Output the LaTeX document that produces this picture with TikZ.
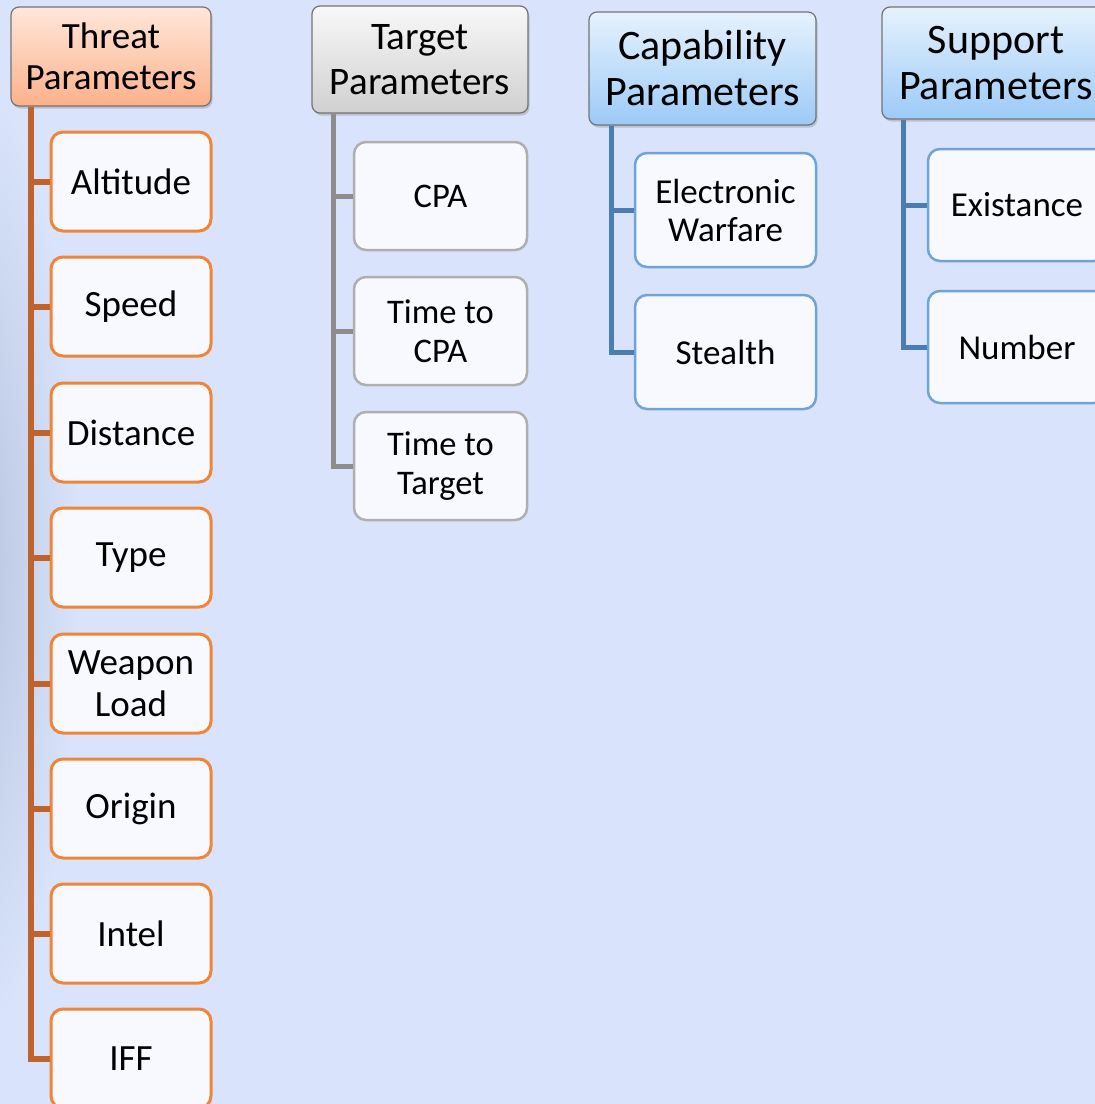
\documentclass[tikz,border=0pt]{standalone}
\usepackage{fontspec}
\setmainfont{Carlito}
\usetikzlibrary{shadows}
\definecolor{bg}{HTML}{D9E4FC}
\definecolor{bgdark}{HTML}{B6C2DC}
\definecolor{thTop}{HTML}{FFE7DB}
\definecolor{thBot}{HTML}{FCB18A}
\definecolor{tgTop}{HTML}{F8F8F8}
\definecolor{tgBot}{HTML}{D0D0D0}
\definecolor{cpTop}{HTML}{E6F2FD}
\definecolor{cpBot}{HTML}{9CCAF7}
\definecolor{orLine}{HTML}{C0622B}
\definecolor{orBox}{HTML}{F08537}
\definecolor{gyLine}{HTML}{8D8D8D}
\definecolor{gyBox}{HTML}{AFAFAF}
\definecolor{blLine}{HTML}{4A7DB1}
\definecolor{blBox}{HTML}{6FA4D8}
\definecolor{boxfill}{HTML}{F7F9FE}
\tikzset{
  hdr/.style={rectangle, rounded corners=8pt, draw=black!55, line width=1.2pt, align=center,
    inner sep=0pt, drop shadow={shadow xshift=1.5pt, shadow yshift=-2.5pt, opacity=0.35}},
  child/.style={rectangle, rounded corners=12pt, fill=boxfill, align=center, inner sep=0pt},
  thchild/.style={child, draw=orBox, line width=3pt, minimum width=160pt, minimum height=99pt,
    font=\fontsize{37}{42}\selectfont},
  tgchild/.style={child, draw=gyBox, line width=2.5pt, minimum width=173pt, minimum height=108pt,
    font=\fontsize{34.5}{39}\selectfont},
  cpchild/.style={child, draw=blBox, line width=2.5pt, minimum width=181pt, minimum height=114pt,
    font=\fontsize{35}{38}\selectfont},
  spchild/.style={child, draw=blBox, line width=2.5pt, minimum width=178pt, minimum height=112pt,
    font=\fontsize{35}{38}\selectfont},
  thline/.style={draw=orLine, line width=6pt},
  tgline/.style={draw=gyLine, line width=5pt},
  blline/.style={draw=blLine, line width=5pt},
}
\begin{document}
\begin{tikzpicture}[x=1pt, y=-1pt]
\useasboundingbox (0,0) rectangle (1095,1104);
\clip (0,0) rectangle (1095,1104);
% background
\fill[bg] (0,0) rectangle (1095,1104);
\shade[inner color=bgdark, outer color=bg] (-30,560) ellipse (110 and 480);

% Threat
\node[hdr, top color=thTop, bottom color=thBot, minimum width=200pt, minimum height=99pt,
  font=\fontsize{37}{41}\selectfont] (th) at (111,56.5) {Threat\\Parameters};
\node[thchild] (alt) at (131,181.5) {Altitude};
\node[thchild] (spd) at (131,306.5) {Speed};
\node[thchild] (dst) at (131,432.5) {Distance};
\node[thchild] (typ) at (131,557.5) {Type};
\node[thchild] (wpn) at (131,683.5) {Weapon\\Load};
\node[thchild] (org) at (131,808.5) {Origin};
\node[thchild] (itl) at (131,933.5) {Intel};
\node[thchild] (iff) at (131,1058.5) {IFF};
\coordinate (thr) at ([xshift=21pt]th.south west);
\foreach \c in {alt,spd,dst,typ,wpn,org,itl,iff}
  \draw[thline] (thr) |- (\c.west);

% Target
\node[hdr, top color=tgTop, bottom color=tgBot, minimum width=216pt, minimum height=107pt,
  font=\fontsize{39}{45}\selectfont] (tg) at (420,59.5) {Target\\Parameters};
\node[tgchild] (cpa) at (440.5,196) {CPA};
\node[tgchild] (tcpa) at (440.5,331) {Time to\\CPA};
\node[tgchild] (ttgt) at (440.5,466) {Time to\\Target};
\coordinate (tgr) at ([xshift=22pt]tg.south west);
\foreach \c in {cpa,tcpa,ttgt}
  \draw[tgline] (tgr) |- (\c.west);

% Capability
\node[hdr, top color=cpTop, bottom color=cpBot, minimum width=227pt, minimum height=113pt,
  font=\fontsize{42}{46}\selectfont] (cp) at (702.5,68.5) {Capability\\Parameters};
\node[cpchild] (ew) at (725.5,210) {Electronic\\Warfare};
\node[cpchild] (st) at (725.5,352) {Stealth};
\coordinate (cpr) at ([xshift=23pt]cp.south west);
\foreach \c in {ew,st}
  \draw[blline] (cpr) |- (\c.west);

% Support
\node[hdr, top color=cpTop, bottom color=cpBot, minimum width=228pt, minimum height=112pt,
  font=\fontsize{42}{46}\selectfont] (sp) at (996,63) {Support\\Parameters};
\node[spchild] (ex) at (1017,205) {Existance};
\node[spchild] (nm) at (1017,347) {Number};
\coordinate (spr) at ([xshift=22pt]sp.south west);
\foreach \c in {ex,nm}
  \draw[blline] (spr) |- (\c.west);
\end{tikzpicture}
\end{document}
